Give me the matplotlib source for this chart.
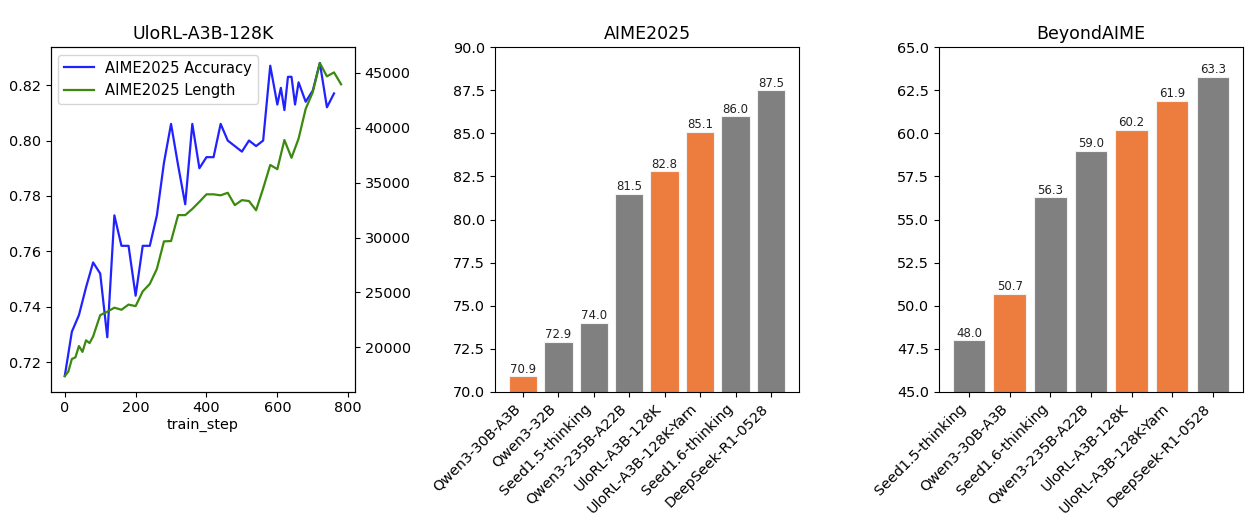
import numpy as np
import matplotlib
matplotlib.use("Agg")
import matplotlib.pyplot as plt

# ---------------------------------------------------------------------------
# data
# ---------------------------------------------------------------------------
acc_steps = [0, 20, 40, 60, 80, 100, 120, 140, 160, 180, 200, 220, 240, 260, 280,
             300, 320, 340, 360, 380, 400, 420, 440, 460, 480, 500, 520, 540, 560,
             580, 600, 610, 620, 630, 640, 650, 660, 680, 700, 720, 740, 760]
acc_values = [0.715, 0.731, 0.737, 0.747, 0.756, 0.752, 0.729, 0.773, 0.762, 0.762,
              0.744, 0.762, 0.762, 0.773, 0.792, 0.806, 0.791, 0.777, 0.806, 0.790,
              0.794, 0.794, 0.806, 0.800, 0.798, 0.796, 0.800, 0.798, 0.800, 0.827,
              0.813, 0.819, 0.811, 0.823, 0.823, 0.813, 0.821, 0.814, 0.818, 0.828,
              0.812, 0.817]

len_steps = [0, 10, 20, 30, 40, 50, 60, 70, 80, 100, 120, 140, 160, 180, 200, 220,
             240, 260, 280, 300, 320, 340, 360, 380, 400, 420, 440, 460, 480, 500,
             520, 540, 560, 580, 600, 620, 640, 660, 680, 700, 720, 740, 760, 780]
len_values = [17400, 17800, 18950, 19100, 20130, 19600, 20650, 20400, 21000, 22940,
              23250, 23620, 23430, 23900, 23760, 25100, 25780, 27150, 29650, 29680,
              32040, 32040, 32600, 33250, 33930, 33930, 33840, 34070, 32950, 33400,
              33320, 32480, 34470, 36600, 36220, 38870, 37250, 39000, 41700, 43220,
              45880, 44660, 45020, 43940]

aime_models = ["Qwen3-30B-A3B", "Qwen3-32B", "Seed1.5-thinking", "Qwen3-235B-A22B",
               "UloRL-A3B-128K", "UloRL-A3B-128K-Yarn", "Seed1.6-thinking",
               "DeepSeek-R1-0528"]
aime_scores = [70.9, 72.9, 74.0, 81.5, 82.8, 85.1, 86.0, 87.5]

beyond_models = ["Seed1.5-thinking", "Qwen3-30B-A3B", "Seed1.6-thinking",
                 "Qwen3-235B-A22B", "UloRL-A3B-128K", "UloRL-A3B-128K-Yarn",
                 "DeepSeek-R1-0528"]
beyond_scores = [48.0, 50.7, 56.3, 59.0, 60.2, 61.9, 63.3]

highlight = {"Qwen3-30B-A3B", "UloRL-A3B-128K", "UloRL-A3B-128K-Yarn"}

ORANGE = "#ED7D3F"
GRAY = "#808080"

plt.rcParams["font.size"] = 10.4

fig = plt.figure(figsize=(12.55, 5.25), dpi=100)
ax0 = fig.add_axes([0.0406, 0.2539, 0.2422, 0.656])
ax1 = fig.add_axes([0.3944, 0.2539, 0.2422, 0.656])
ax2 = fig.add_axes([0.7482, 0.2539, 0.2422, 0.656])

# training curve with twin axis
l1, = ax0.plot(acc_steps, acc_values, color="#2222ff", lw=1.6, label="AIME2025 Accuracy")
ax0b = ax0.twinx()
l2, = ax0b.plot(len_steps, len_values, color="#3b8a0e", lw=1.6, label="AIME2025 Length")
ax0.set_xlabel("train_step", labelpad=2)
ax0.set_xticks([0, 200, 400, 600, 800])
ax0.set_title("UloRL-A3B-128K", fontsize=12.5)
ax0.legend(handles=[l1, l2], loc="upper left", fontsize=10.6)


def bar_panel(ax, models, scores, ylim, title):
    colors = [ORANGE if m in highlight else GRAY for m in models]
    x = np.arange(len(models))
    bars = ax.bar(x, scores, width=0.8, color=colors, edgecolor="#f2f2f2", linewidth=0.8)
    for b, s in zip(bars, scores):
        ax.text(b.get_x() + b.get_width() / 2, s + 0.03, f"{s:.1f}",
                ha="center", va="bottom", fontsize=8.5, color="#222222")
    ax.set_ylim(*ylim)
    ax.set_yticks(np.arange(ylim[0], ylim[1] + 0.01, 2.5))
    ax.yaxis.set_major_formatter(matplotlib.ticker.FormatStrFormatter("%.1f"))
    ax.set_xticks(x)
    ax.set_xticklabels(models, rotation=45, ha="right")
    ax.set_title(title, fontsize=12.5)


bar_panel(ax1, aime_models, aime_scores, (70, 90), "AIME2025")
bar_panel(ax2, beyond_models, beyond_scores, (45, 65), "BeyondAIME")

fig.savefig("out.png", dpi=100)
plt.close(fig)
